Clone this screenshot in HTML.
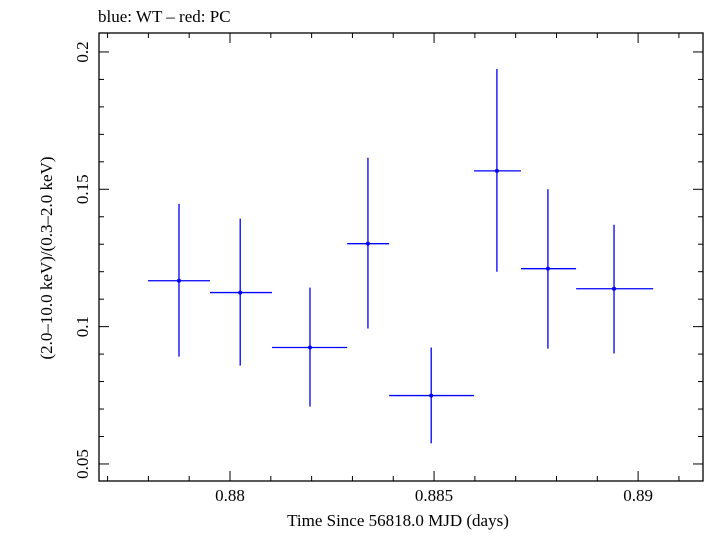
<!DOCTYPE html>
<html><head><meta charset="utf-8"><style>
body{margin:0;background:#fff}
svg text{font-family:"Liberation Serif",serif;fill:#000}
</style></head><body>
<svg id="chart" width="705" height="532" viewBox="0 0 705 532" xmlns="http://www.w3.org/2000/svg">
<text x="98" y="22" font-size="17">blue: WT – red: PC</text>
<rect x="99" y="33" width="604" height="448" fill="none" stroke="#000" stroke-width="1.3"/>
<g id="ticks"></g>
<g id="marks"></g>
<text x="398" y="526" font-size="17" text-anchor="middle">Time Since 56818.0 MJD (days)</text>
<text transform="translate(52,258) rotate(-90)" font-size="17" text-anchor="middle">(2.0–10.0 keV)/(0.3–2.0 keV)</text>
</svg>
<script>
const times=[0.87875,0.88025,0.88196,0.88338,0.88493,0.88654,0.88779,0.88941];
const timeLo=[0.87799,0.87951,0.88103,0.88287,0.88390,0.88598,0.88713,0.88848];
const timeHi=[0.87951,0.88103,0.88287,0.88390,0.88598,0.88713,0.88848,0.89037];
const ratio=[0.1167,0.1124,0.0924,0.1302,0.0749,0.1567,0.1211,0.1138];
const ratioHi=[0.1447,0.1393,0.1142,0.1615,0.0924,0.1938,0.1500,0.1371];
const ratioLo=[0.0891,0.0858,0.0709,0.0993,0.0575,0.1200,0.0920,0.0902];
const xTicks=["0.88","0.885","0.89"];
const yTicks=["0.05","0.1","0.15","0.2"];
const L=99,R=703,T=33,B=481;
const xMin=0.87679,xMax=0.89159,yMin=0.0438,yMax=0.2069;
const X=v=>L+(v-xMin)/(xMax-xMin)*(R-L);
const Y=v=>B-(v-yMin)/(yMax-yMin)*(B-T);
const NS="http://www.w3.org/2000/svg";
function ln(g,x1,y1,x2,y2,c,w,name){const e=document.createElementNS(NS,'line');
e.setAttribute('x1',x1);e.setAttribute('y1',y1);e.setAttribute('x2',x2);e.setAttribute('y2',y2);
e.setAttribute('stroke',c);e.setAttribute('stroke-width',w);


g.appendChild(e);return e;}
const tg=document.getElementById('ticks');
for(let i=0;;i++){const v=0.877+i*0.001;if(v>xMax)break;const x=X(v);const maj=Math.abs(Math.round(v*1000)%5)===0;const l=maj?10:5;
ln(tg,x,B,x,B-l,'#000',1,'x-tick');ln(tg,x,T,x,T+l,'#000',1,'x-tick-top');}
for(let i=0;;i++){const v=0.05+i*0.01;if(v>yMax)break;const y=Y(v);const maj=Math.round(v*100)%5===0;const l=maj?10:5;
ln(tg,L,y,L+l,y,'#000',1,'y-tick');ln(tg,R,y,R-l,y,'#000',1,'y-tick-right');}
xTicks.forEach(t=>{const e=document.createElementNS(NS,'text');e.setAttribute('x',X(+t));e.setAttribute('y',501);
e.setAttribute('font-size','17');e.setAttribute('text-anchor','middle');e.textContent=t;


tg.appendChild(e);});
yTicks.forEach(t=>{const e=document.createElementNS(NS,'text');const y=Y(+t);
e.setAttribute('transform','translate(88,'+y+') rotate(-90)');e.setAttribute('font-size','17');e.setAttribute('text-anchor','middle');e.textContent=t;


tg.appendChild(e);});
const mg=document.getElementById('marks');
times.forEach((t,i)=>{
ln(mg,X(timeLo[i]),Y(ratio[i]),X(timeHi[i]),Y(ratio[i]),'#0000ff',1.3,'x-error-bar');
ln(mg,X(t),Y(ratioHi[i]),X(t),Y(ratioLo[i]),'#0000ff',1.3,'y-error-bar');
const c=document.createElementNS(NS,'circle');c.setAttribute('cx',X(t));c.setAttribute('cy',Y(ratio[i]));c.setAttribute('r',2);c.setAttribute('fill','#0000ff');


mg.appendChild(c);});
</script>
</body></html>
